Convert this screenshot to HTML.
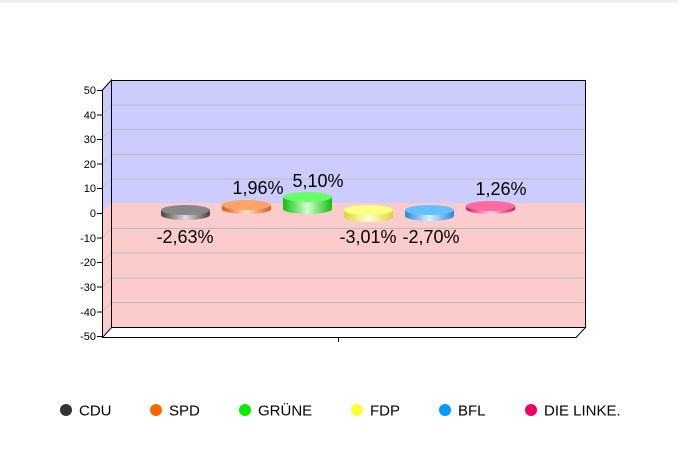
<!DOCTYPE html>
<html><head><meta charset="utf-8"><style>
body{margin:0;background:#fff;width:678px;height:450px;overflow:hidden;font-family:"Liberation Sans",Arial,sans-serif}
</style></head><body>
<svg width="678" height="450" xmlns="http://www.w3.org/2000/svg" font-family="Liberation Sans, Arial, sans-serif">
<defs>
<linearGradient id="g0" x1="0" x2="1"><stop offset="0" stop-color="#444"/><stop offset=".5" stop-color="#ddd"/><stop offset="1" stop-color="#444"/></linearGradient>
<linearGradient id="g1" x1="0" x2="1"><stop offset="0" stop-color="#d85a10"/><stop offset=".5" stop-color="#ffe0c8"/><stop offset="1" stop-color="#d85a10"/></linearGradient>
<linearGradient id="g2" x1="0" x2="1"><stop offset="0" stop-color="#10c010"/><stop offset=".5" stop-color="#d0ffd0"/><stop offset="1" stop-color="#10c010"/></linearGradient>
<linearGradient id="g3" x1="0" x2="1"><stop offset="0" stop-color="#d8d830"/><stop offset=".5" stop-color="#ffffd8"/><stop offset="1" stop-color="#d8d830"/></linearGradient>
<linearGradient id="g4" x1="0" x2="1"><stop offset="0" stop-color="#2888d8"/><stop offset=".5" stop-color="#d8f0ff"/><stop offset="1" stop-color="#2888d8"/></linearGradient>
<linearGradient id="g5" x1="0" x2="1"><stop offset="0" stop-color="#d01860"/><stop offset=".5" stop-color="#ffd0e0"/><stop offset="1" stop-color="#d01860"/></linearGradient>
</defs>
<rect x="0" y="0" width="678" height="3" fill="#eee"/>
<rect x="111" y="80" width="474" height="123" fill="#ccccff"/>
<rect x="111" y="203" width="474" height="124" fill="#fccccc"/>
<polygon points="102,90 111,80 111,203 102,213" fill="#ccccff"/>
<polygon points="102,213 111,203 111,327 102,337" fill="#fccccc"/>
<g stroke="#bbb" stroke-width="1">
<line x1="111" y1="105" x2="585" y2="105"/><line x1="111" y1="129.5" x2="585" y2="129.5"/>
<line x1="111" y1="154.5" x2="585" y2="154.5"/><line x1="111" y1="179" x2="585" y2="179"/>
<line x1="111" y1="228.5" x2="585" y2="228.5"/><line x1="111" y1="253" x2="585" y2="253"/>
<line x1="111" y1="278" x2="585" y2="278"/><line x1="111" y1="302.5" x2="585" y2="302.5"/>
</g>
<g stroke="#c8c8c8" stroke-width="1">
<line x1="102" y1="114.5" x2="111" y2="105"/><line x1="102" y1="139" x2="111" y2="129.5"/>
<line x1="102" y1="164" x2="111" y2="154.5"/><line x1="102" y1="188.5" x2="111" y2="179"/>
<line x1="102" y1="238" x2="111" y2="228.5"/><line x1="102" y1="262.5" x2="111" y2="253"/>
<line x1="102" y1="287.5" x2="111" y2="278"/><line x1="102" y1="312" x2="111" y2="302.5"/>
</g>
<g fill="none" stroke="#000" stroke-width="1">
<polyline points="102.5,337 102.5,90 111.5,80 111.5,327"/>
<polyline points="111,80.5 585.5,80.5 585.5,327"/>
<polygon points="102.5,337.5 576,337.5 585.5,327.5 111.5,327.5" fill="#fff"/>
<line x1="338.5" y1="337" x2="338.5" y2="342"/>
</g>
<g stroke="#000"><line x1="97" y1="90.5" x2="102" y2="90.5"/><line x1="97" y1="115" x2="102" y2="115"/><line x1="97" y1="139.5" x2="102" y2="139.5"/><line x1="97" y1="164" x2="102" y2="164"/><line x1="97" y1="188.5" x2="102" y2="188.5"/><line x1="97" y1="213.5" x2="102" y2="213.5"/><line x1="97" y1="238" x2="102" y2="238"/><line x1="97" y1="262.5" x2="102" y2="262.5"/><line x1="97" y1="287" x2="102" y2="287"/><line x1="97" y1="312" x2="102" y2="312"/><line x1="97" y1="336.5" x2="102" y2="336.5"/></g>
<g font-size="11" text-anchor="end" fill="#000">
<text x="96" y="94">50</text><text x="96" y="119">40</text><text x="96" y="143">30</text><text x="96" y="168">20</text><text x="96" y="192">10</text><text x="96" y="217">0</text><text x="96" y="242">-10</text><text x="96" y="266">-20</text><text x="96" y="291">-30</text><text x="96" y="316">-40</text><text x="96" y="340">-50</text>
</g>
<g>
<path d="M161,210 V215 A24.5,5 0 0 0 210,215 V210 Z" fill="url(#g0)"/><ellipse cx="185.5" cy="210" rx="24.5" ry="5" fill="#888"/>
<path d="M222,205 V209 A24.5,5 0 0 0 271,209 V205 Z" fill="url(#g1)"/><ellipse cx="246.5" cy="205" rx="24.5" ry="5" fill="#ffa468"/>
<path d="M283,197 V209 A24.5,5 0 0 0 332,209 V197 Z" fill="url(#g2)"/><ellipse cx="307.5" cy="197" rx="24.5" ry="5" fill="#66ff66"/>
<path d="M344,210 V217 A24.5,5 0 0 0 393,217 V210 Z" fill="url(#g3)"/><ellipse cx="368.5" cy="210" rx="24.5" ry="5" fill="#ffff80"/>
<path d="M405,210 V216 A24.5,5 0 0 0 454,216 V210 Z" fill="url(#g4)"/><ellipse cx="429.5" cy="210" rx="24.5" ry="5" fill="#66c0ff"/>
<path d="M466,206 V209 A24.5,5 0 0 0 515,209 V206 Z" fill="url(#g5)"/><ellipse cx="490.5" cy="206" rx="24.5" ry="5" fill="#ff6aa0"/>
</g>
<g font-size="18" text-anchor="middle" fill="#000">
<text x="185" y="243">-2,63%</text>
<text x="258" y="194">1,96%</text>
<text x="318" y="187">5,10%</text>
<text x="368" y="243">-3,01%</text>
<text x="431" y="243">-2,70%</text>
<text x="501" y="195">1,26%</text>
</g>
<g font-size="15" fill="#000">
<circle cx="66" cy="410" r="6" fill="#333"/><text x="79" y="415.5">CDU</text>
<circle cx="156" cy="410" r="6" fill="#ff6600"/><text x="169" y="415.5">SPD</text>
<circle cx="245" cy="410" r="6" fill="#00ee00"/><text x="258" y="415.5">GRÜNE</text>
<circle cx="357" cy="410" r="6" fill="#ffff33"/><text x="370" y="415.5">FDP</text>
<circle cx="445" cy="410" r="6" fill="#0099ff"/><text x="458" y="415.5">BFL</text>
<circle cx="531" cy="410" r="6" fill="#ee0066"/><text x="544" y="415.5">DIE LINKE.</text>
</g>
</svg>
</body></html>
